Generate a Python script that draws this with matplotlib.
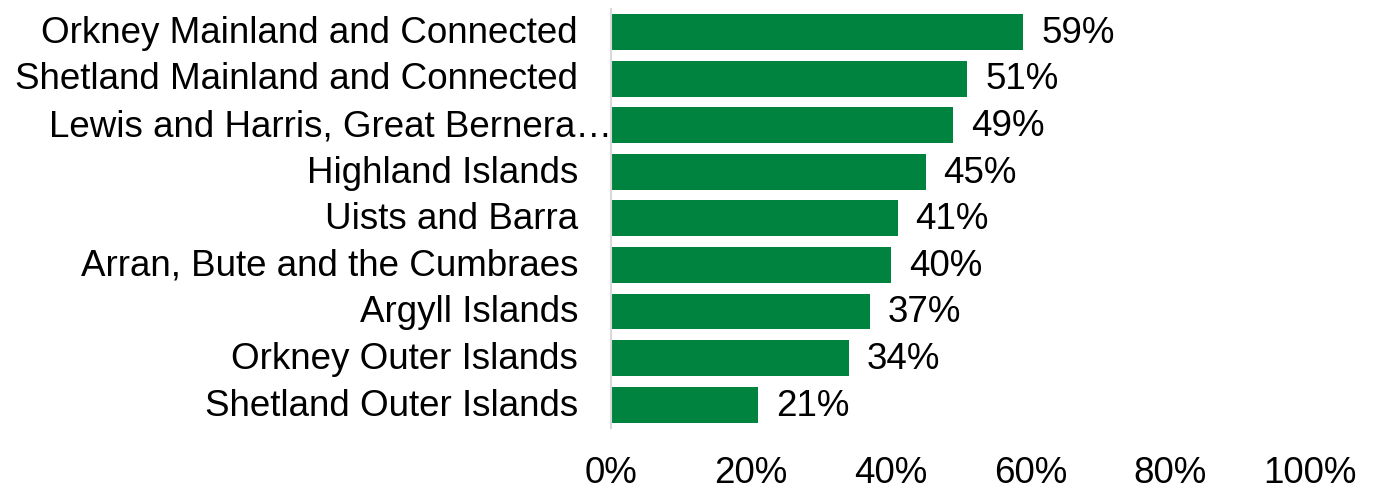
# Horizontal bar chart of island shares
import matplotlib.pyplot as plt
from matplotlib.ticker import PercentFormatter

plt.rcParams['font.family'] = ['Liberation Sans', 'DejaVu Sans']

# Data (top to bottom as shown)
areas = ["Orkney Mainland and Connected", "Shetland Mainland and Connected",
         "Lewis and Harris, Great Bernera\u2026", "Highland Islands",
         "Uists and Barra", "Arran, Bute and the Cumbraes", "Argyll Islands",
         "Orkney Outer Islands", "Shetland Outer Islands"]
shares = [59, 51, 49, 45, 41, 40, 37, 34, 21]
xticks = [0, 20, 40, 60, 80, 100]

fs = 26.5

fig = plt.figure(figsize=(13.78, 5.04), dpi=100)
ax = fig.add_axes([0.4434, 0.1508, 0.5072, 0.8319])

ypos = list(range(len(areas)))
ax.barh(ypos, shares, height=0.77, color='#00833E')
ax.set_ylim(len(areas) - 0.5, -0.5)
ax.set_xlim(0, 100)

# value labels
for y, v in zip(ypos, shares):
    ax.annotate(f"{v}%", xy=(v, y), xytext=(13, -1), textcoords='offset points',
                ha='left', va='center', fontsize=fs)

# category labels as text so the long one can run up to the axis
ytr = ax.get_yaxis_transform()
for y, name in zip(ypos, areas):
    xx = 0.0014 if name.endswith('\u2026') else -0.0472
    ax.text(xx, y + 0.03, name, transform=ytr, ha='right', va='center', fontsize=fs)
ax.set_yticks([])

ax.set_xticks(xticks)
ax.xaxis.set_major_formatter(PercentFormatter(decimals=0))
ax.tick_params(axis='x', length=0, labelsize=fs, pad=20)

for s in ['top', 'right', 'bottom']:
    ax.spines[s].set_visible(False)
ax.spines['left'].set_color('#D9D9D9')
ax.spines['left'].set_linewidth(1.5)

fig.savefig('out.png', dpi=100)
